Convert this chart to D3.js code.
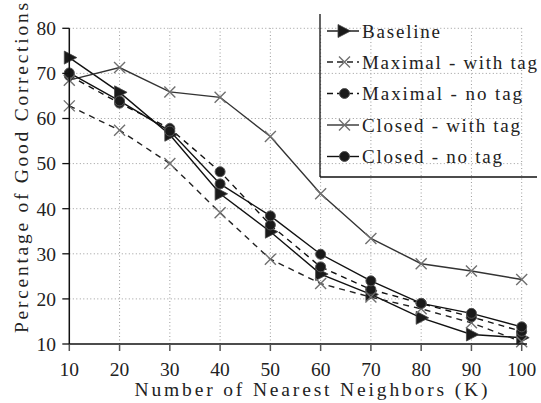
<!DOCTYPE html>
<html><head><meta charset="utf-8">
<script src="https://cdn.jsdelivr.net/npm/d3@7"></script>
<style>html,body{margin:0;padding:0;background:#fff;}svg{display:block;}</style>
</head><body>
<script>
const kValues = [10, 20, 30, 40, 50, 60, 70, 80, 90, 100];
const baseline = [73.5, 65.8, 56.4, 43.3, 34.9, 25.5, 21.0, 15.8, 12.1, 11.4];
const maximalWithTag = [62.8, 57.4, 50.0, 39.1, 28.8, 23.4, 20.4, 17.8, 14.7, 10.5];
const maximalNoTag = [69.5, 63.4, 57.8, 48.2, 36.4, 27.1, 22.1, 19.0, 16.0, 12.8];
const closedWithTag = [68.5, 71.3, 65.9, 64.7, 56.0, 43.3, 33.4, 27.8, 26.2, 24.3];
const closedNoTag = [70.1, 63.9, 57.2, 45.5, 38.4, 29.9, 24.0, 19.0, 16.8, 13.8];
const xTicks = [10, 20, 30, 40, 50, 60, 70, 80, 90, 100];
const yTicks = [10, 20, 30, 40, 50, 60, 70, 80];
const seriesNames = ["Baseline", "Maximal - with tag", "Maximal - no tag", "Closed - with tag", "Closed - no tag"];
const xTitle = "Number of Nearest Neighbors (K)";
const yTitle = "Percentage of Good Corrections";

const W = 541, H = 403;
const font = "'Liberation Serif', 'Times New Roman', serif";
const svg = d3.select("body").append("svg").attr("width", W).attr("height", H);
const x = d3.scaleLinear().domain([10, 100]).range([69.3, 521.7]);
const y = d3.scaleLinear().domain([10, 80]).range([344, 28.3]);

// grid
const grid = svg.append("g").attr("stroke", "#9a9a9a").attr("stroke-width", 1).attr("stroke-dasharray", "1,2.5");
grid.selectAll(".gx").data(xTicks.slice(1)).join("line")
  .attr("x1", d => x(d)).attr("x2", d => x(d)).attr("y1", y(10)).attr("y2", y(80));
grid.selectAll(".gy").data(yTicks.slice(1)).join("line")
  .attr("x1", x(10)).attr("x2", x(100)).attr("y1", d => y(d)).attr("y2", d => y(d));

const series = [
  {name: seriesNames[0], vals: baseline, dash: null, marker: "tri", color: "#111"},
  {name: seriesNames[1], vals: maximalWithTag, dash: "6,5", marker: "x", color: "#222"},
  {name: seriesNames[2], vals: maximalNoTag, dash: "6,5", marker: "dot", color: "#111"},
  {name: seriesNames[3], vals: closedWithTag, dash: null, marker: "x", color: "#333"},
  {name: seriesNames[4], vals: closedNoTag, dash: null, marker: "dot", color: "#111"}
];

function drawMarker(g, type) {
  if (type === "tri") {
    g.append("path").attr("d", "M-5,-6.5L7.5,0L-5,6.5Z").attr("fill", "#1a1a1a").attr("stroke", "#444").attr("stroke-width", 0.8);
  } else if (type === "dot") {
    g.append("circle").attr("r", 5).attr("fill", "#1a1a1a").attr("stroke", "#555").attr("stroke-width", 1);
  } else {
    g.append("path").attr("d", "M-5.5,-5.5L5.5,5.5M-5.5,5.5L5.5,-5.5").attr("stroke", "#707070").attr("stroke-width", 1.4).attr("fill", "none");
  }
}

const line = d3.line().x((d, i) => x(kValues[i])).y(d => y(d));
series.forEach(s => {
  svg.append("path").datum(s.vals).attr("d", line).attr("fill", "none")
    .attr("stroke", s.color).attr("stroke-width", 1.4)
    .attr("stroke-dasharray", s.dash);
});
series.forEach(s => {
  s.vals.forEach((v, i) => {
    const g = svg.append("g").attr("transform", `translate(${x(kValues[i])},${y(v)})`);
    drawMarker(g, s.marker);
  });
});

// axes
const ax = svg.append("g").attr("stroke", "#111");
ax.append("line").attr("x1", x(10)).attr("x2", 527).attr("y1", y(10)).attr("y2", y(10)).attr("stroke-width", 1.5);
ax.append("line").attr("x1", x(10)).attr("x2", x(10)).attr("y1", y(10)).attr("y2", y(80)).attr("stroke-width", 1.5);
ax.selectAll(".tx").data(xTicks).join("line").attr("stroke", "#555").attr("stroke-width", 1.5)
  .attr("x1", d => x(d)).attr("x2", d => x(d)).attr("y1", y(10)).attr("y2", y(10) + 7);
ax.selectAll(".ty").data(yTicks).join("line").attr("stroke-width", 1.3)
  .attr("x1", x(10) - 7).attr("x2", x(10)).attr("y1", d => y(d)).attr("y2", d => y(d));

svg.append("g").selectAll("text").data(xTicks).join("text")
  .attr("x", d => x(d)).attr("y", 376).attr("text-anchor", "middle")
  .attr("font-family", font).attr("font-size", 19.5).attr("fill", "#222").text(d => d);
svg.append("g").selectAll("text").data(yTicks).join("text")
  .attr("x", 56).attr("y", d => y(d) + 6.8).attr("text-anchor", "end")
  .attr("font-family", font).attr("font-size", 19.5).attr("fill", "#222").text(d => d);

svg.append("text").attr("x", 311).attr("y", 395.5).attr("text-anchor", "middle")
  .attr("font-family", font).attr("font-size", 19.5).attr("fill", "#222")
  .attr("textLength", 353).attr("lengthAdjust", "spacing").text(xTitle);
svg.append("text").attr("transform", "translate(27.5,168) rotate(-90)").attr("text-anchor", "middle")
  .attr("font-family", font).attr("font-size", 19.5).attr("fill", "#222")
  .attr("textLength", 330).attr("lengthAdjust", "spacing").text(yTitle);

// legend
const lg = svg.append("g");
lg.append("line").attr("x1", 320).attr("x2", 320).attr("y1", 14).attr("y2", 177).attr("stroke", "#111").attr("stroke-width", 1.3);
lg.append("line").attr("x1", 320).attr("x2", 537).attr("y1", 177).attr("y2", 177).attr("stroke", "#111").attr("stroke-width", 1.3);
const rowY = [31, 62, 93.5, 125, 156.5];
const textLens = [78, 175, 160, 158, 140];
series.forEach((s, i) => {
  const cy = rowY[i];
  lg.append("line").attr("x1", 327).attr("x2", 359).attr("y1", cy).attr("y2", cy)
    .attr("stroke", s.color).attr("stroke-width", 1.4).attr("stroke-dasharray", s.dash ? "6,4" : null);
  const g = lg.append("g").attr("transform", `translate(${s.marker === "tri" ? 343 : 344.5},${cy})`);
  drawMarker(g, s.marker);
  lg.append("text").attr("x", 362).attr("y", cy + 6.5).attr("font-family", font).attr("font-size", 19)
    .attr("fill", "#222").attr("textLength", textLens[i]).attr("lengthAdjust", "spacing").text(s.name);
});
</script>
</body></html>
